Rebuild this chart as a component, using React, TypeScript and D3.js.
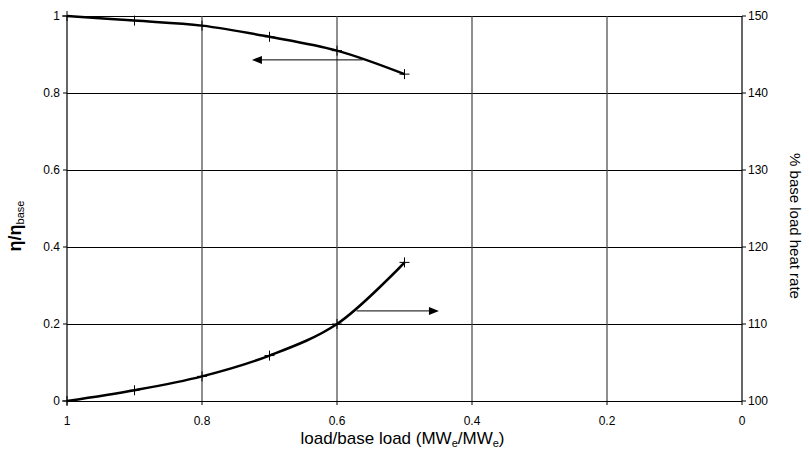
import React from "react";
import * as d3 from "d3";

// values
const loadRatio = [1, 0.9, 0.8, 0.7, 0.6, 0.5];
const efficiency = [1, 0.988, 0.975, 0.946, 0.91, 0.849];
const heatRate = [100, 101.4, 103.2, 105.9, 110, 118];

const xTicks = [1, 0.8, 0.6, 0.4, 0.2, 0];
const leftTicks = [0, 0.2, 0.4, 0.6, 0.8, 1];
const rightTicks = [100, 110, 120, 130, 140, 150];

// arrows telling which axis each curve belongs to (data units)
const effArrow = { from: 0.562, to: 0.726, y: 0.886 };
const heatArrow = { from: 0.571, to: 0.449, y: 111.7 };

const width = 809;
const height = 453;
const margin = { top: 16, right: 67, bottom: 52, left: 67 };
const innerW = width - margin.left - margin.right;
const innerH = height - margin.top - margin.bottom;
const font = "'Liberation Sans', Arial, sans-serif";

const x = d3.scaleLinear().domain([1, 0]).range([0, innerW]);
const yL = d3.scaleLinear().domain([0, 1]).range([innerH, 0]);
const yR = d3.scaleLinear().domain([100, 150]).range([innerH, 0]);

const Cross = ({ cx, cy }: { cx: number; cy: number }) => (
  <g stroke="#000" strokeWidth={1}>
    <line x1={cx - 5} x2={cx + 5} y1={cy} y2={cy} />
    <line x1={cx} x2={cx} y1={cy - 5} y2={cy + 5} />
  </g>
);

const Arrow = ({ x1, x2, y }: { x1: number; x2: number; y: number }) => {
  const dir = x2 > x1 ? 1 : -1;
  return (
    <g>
      <line x1={x1} x2={x2 - dir * 8} y1={y} y2={y} stroke="#000" strokeWidth={1} />
      <path d={`M${x2},${y} L${x2 - dir * 10},${y - 4} L${x2 - dir * 10},${y + 4} Z`} fill="#000" />
    </g>
  );
};

export default function App() {
  const effLine = d3
    .line<number>()
    .x((_, i) => x(loadRatio[i]))
    .y((d) => yL(d))
    .curve(d3.curveCatmullRom.alpha(0.5));
  const heatLine = d3
    .line<number>()
    .x((_, i) => x(loadRatio[i]))
    .y((d) => yR(d))
    .curve(d3.curveCatmullRom.alpha(0.5));

  return (
    <svg
      width={width}
      height={height}
      style={{ position: "absolute", left: 0, top: 0, background: "#fff" }}
      fontFamily={font}
    >
      <g transform={`translate(${margin.left},${margin.top})`}>
        {/* grid */}
        {leftTicks.map((t) => (
          <line key={"h" + t} x1={0} x2={innerW} y1={Math.round(yL(t)) + 0.5} y2={Math.round(yL(t)) + 0.5} stroke="#000" strokeWidth={1} />
        ))}
        {xTicks.map((t) => (
          <line key={"v" + t} x1={x(t)} x2={x(t)} y1={0} y2={innerH} stroke={t === 1 || t === 0 ? "#000" : "#444"} strokeWidth={1.2} />
        ))}

        {/* left axis */}
        {leftTicks.map((t) => (
          <g key={"l" + t} transform={`translate(0,${yL(t)})`}>
            <line x1={-4} x2={0} stroke="#000" />
            <text x={-7} dy="0.35em" textAnchor="end" fontSize={12} fill="#000">{t}</text>
          </g>
        ))}
        {/* right axis */}
        {rightTicks.map((t) => (
          <g key={"r" + t} transform={`translate(${innerW},${yR(t)})`}>
            <line x1={0} x2={4} stroke="#000" />
            <text x={6} dy="0.35em" textAnchor="start" fontSize={12} fill="#000">{t}</text>
          </g>
        ))}
        {/* bottom axis */}
        {xTicks.map((t) => (
          <g key={"b" + t} transform={`translate(${x(t)},${innerH})`}>
            <line y1={0} y2={4} stroke="#000" />
            <text y={24} textAnchor="middle" fontSize={12} fill="#000">{t}</text>
          </g>
        ))}

        {/* curves */}
        <path d={effLine(efficiency) || ""} fill="none" stroke="#000" strokeWidth={2.5} />
        <path d={heatLine(heatRate) || ""} fill="none" stroke="#000" strokeWidth={2.5} />
        {efficiency.map((v, i) => (
          <Cross key={"e" + i} cx={x(loadRatio[i])} cy={yL(v)} />
        ))}
        {heatRate.map((v, i) => (
          <Cross key={"hr" + i} cx={x(loadRatio[i])} cy={yR(v)} />
        ))}

        <Arrow x1={x(effArrow.from)} x2={x(effArrow.to)} y={yL(effArrow.y)} />
        <Arrow x1={x(heatArrow.from)} x2={x(heatArrow.to)} y={yR(heatArrow.y)} />
      </g>

      {/* axis titles */}
      <text x={margin.left + innerW / 2 - 2} y={444} textAnchor="middle" fontSize={17} fill="#000">
        load/base load (MW<tspan fontSize={11} dy={3}>e</tspan>
        <tspan dy={-3}>/MW</tspan>
        <tspan fontSize={11} dy={3}>e</tspan>
        <tspan dy={-3}>)</tspan>
      </text>
      <text transform="translate(21,226) rotate(-90)" textAnchor="middle" fill="#000">
        <tspan fontSize={18} fontWeight="bold">η/η</tspan>
        <tspan fontSize={11} dy={3}>base</tspan>
      </text>
      <text transform="translate(790,226) rotate(90)" textAnchor="middle" fontSize={15} fill="#000">
        % base load heat rate
      </text>
    </svg>
  );
}
